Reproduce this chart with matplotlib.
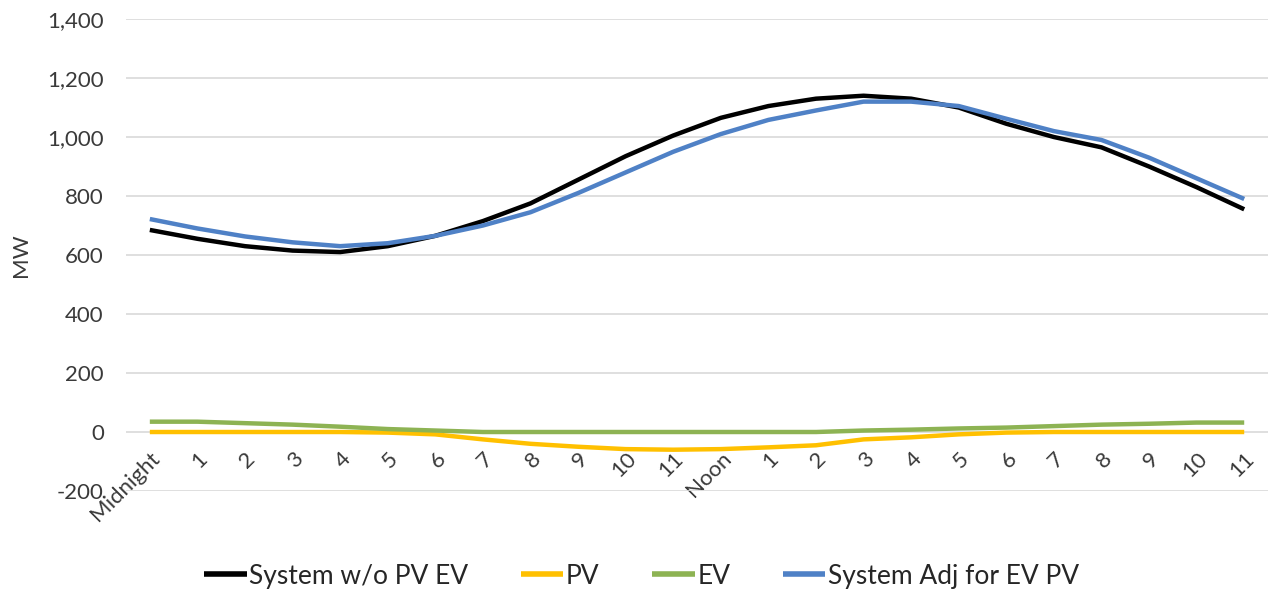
import matplotlib
matplotlib.use("Agg")
import matplotlib.pyplot as plt
from matplotlib.ticker import FuncFormatter

hours = ["Midnight", "1", "2", "3", "4", "5", "6", "7", "8", "9", "10", "11",
         "Noon", "1", "2", "3", "4", "5", "6", "7", "8", "9", "10", "11"]

system_wo = [685, 655, 630, 615, 610, 630, 665, 715, 775, 855, 935, 1005,
             1065, 1105, 1130, 1140, 1130, 1100, 1045, 1000, 965, 900, 830, 755]
pv = [0, 0, 0, 0, 0, -2, -8, -25, -40, -50, -58, -60,
      -58, -52, -45, -25, -18, -8, -2, 0, 0, 0, 0, 0]
ev = [35, 35, 30, 25, 18, 10, 5, 0, 0, 0, 0, 0,
      0, 0, 0, 5, 8, 12, 15, 20, 25, 28, 32, 32]
system_adj = [722, 690, 663, 643, 630, 640, 665, 700, 745, 810, 880, 950,
              1010, 1058, 1090, 1120, 1120, 1105, 1062, 1020, 990, 930, 860, 790]

series = [
    ("System w/o PV EV", system_wo, "#000000"),
    ("PV", pv, "#FFC000"),
    ("EV", ev, "#8DB353"),
    ("System Adj for EV PV", system_adj, "#4F81C6"),
]

plt.rcParams['font.family'] = ['Lato', 'DejaVu Sans']

fig = plt.figure(figsize=(12.68, 5.91), dpi=100)
ax = fig.add_axes([0.0994, 0.1692, 0.9006, 0.7986])

x = list(range(len(hours)))
for name, vals, col in series:
    ax.plot(x, vals, color=col, lw=3.2, label=name, solid_joinstyle='round',
            solid_capstyle='butt')

ax.set_xlim(-0.5, len(hours) - 0.5)
ax.set_ylim(-200, 1400)
ax.set_yticks(range(-200, 1401, 200))
ax.yaxis.set_major_formatter(FuncFormatter(lambda v, p: f"{int(v):,}"))
ax.grid(axis='y', color='#d9d9d9', lw=1.2)
ax.set_axisbelow(True)
for s in ax.spines.values():
    s.set_visible(False)
ax.spines['bottom'].set_position(('data', 0))
ax.tick_params(axis='both', length=0, colors='#3a3a3a')
ax.tick_params(axis='y', pad=16, labelsize=16)
ax.set_xticks(x)
ax.set_xticklabels(hours, rotation=45, ha='right', va='top',
                   rotation_mode='anchor')
ax.tick_params(axis='x', pad=12, labelsize=16)
ax.set_ylabel("MW", fontsize=16, color='#3a3a3a', labelpad=12)

leg = fig.legend(loc='center', bbox_to_anchor=(0.506, 0.025), ncol=4,
                 frameon=False, fontsize=19, handlelength=1.6,
                 handletextpad=0.1, columnspacing=2.0)
for t in leg.get_texts():
    t.set_color('#262626')
for h in leg.get_lines():
    h.set_linewidth(4)

fig.savefig("out.png", dpi=100)
